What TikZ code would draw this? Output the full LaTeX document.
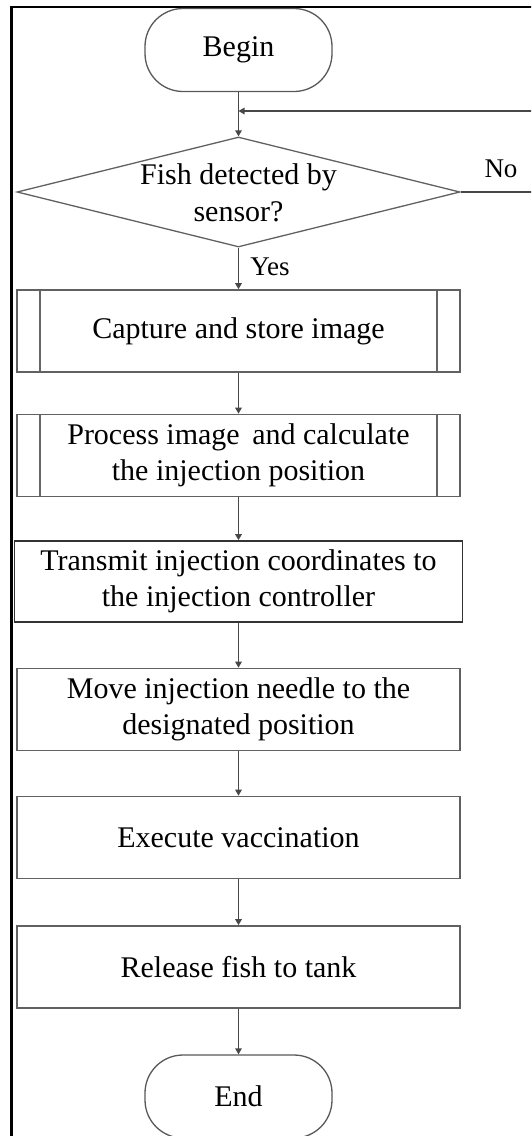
\documentclass[tikz,border=0pt]{standalone}
\usepackage{fontspec}
\setmainfont{Liberation Serif}
\usetikzlibrary{arrows.meta,shapes.geometric}
\begin{document}
\begin{tikzpicture}[x=1pt,y=-1pt,
  txt/.style={font=\fontsize{30}{36.5}\selectfont, align=center, text=black},
  lbl/.style={font=\fontsize{27}{30}\selectfont, text=black, inner sep=0pt},
  term/.style={txt, draw=black!65, line width=1.3pt, rounded corners=38pt, minimum width=187pt, minimum height=83pt, inner sep=0pt},
  procbox/.style={txt, draw=black!62, line width=1.6pt, minimum width=443pt, minimum height=82pt, inner sep=0pt},
  predef/.style={procbox, path picture={
      \draw[black!60, line width=1.3pt]
        ([xshift=23pt]path picture bounding box.north west) -- ([xshift=23pt]path picture bounding box.south west)
        ([xshift=-23pt]path picture bounding box.north east) -- ([xshift=-23pt]path picture bounding box.south east);}},
  decision/.style={diamond, draw=black!62, line width=1.3pt, minimum width=443pt, minimum height=110pt, inner sep=0pt},
  arr/.style={draw=black!72, line width=1.3pt, -{Triangle[length=6pt,width=6.5pt]}},
  line/.style={draw=black!72, line width=1.3pt}
]
\useasboundingbox (0,0) rectangle (531,1136);
\clip (0,0) rectangle (531,1136);
\fill[white] (0,0) rectangle (531,1136);
% frame
\draw[black, line width=2.6pt] (11.5,1140) -- (11.5,7) -- (540,7);

\node[term] (begin) at (238.5,50) {Begin};
\node[decision] (dec) at (238.5,192) {};
\node[txt] (dectxt) at (238.5,193) {Fish detected by\\sensor?};
\node[predef] (p1) at (238.5,331) {Capture and store image};
\node[predef] (p2) at (238.5,455.5) {Process image\, and calculate\\the injection position};
\node[procbox, draw=black!80, minimum width=448pt, minimum height=81pt] (p3) at (238.5,581.5) {Transmit injection coordinates to\\the injection controller};
\node[procbox] (p4) at (238.5,709.5) {Move injection needle to the\\designated position};
\node[procbox] (p5) at (238.5,837.5) {Execute vaccination};
\node[procbox] (p6) at (238.5,967) {Release fish to tank};
\node[term] (end) at (238.5,1096.5) {End};

\coordinate (join) at (238.5,111);
\coordinate (loopR) at (560,192);

\draw[arr] (begin) -- (dec);
\draw[arr] (dec.east) -- (loopR) |- (join);
\draw[arr] (dec) -- (p1);
\draw[arr] (p1) -- (p2);
\draw[arr] (p2) -- (p3);
\draw[arr] (p3) -- (p4);
\draw[arr] (p4) -- (p5);
\draw[arr] (p5) -- (p6);
\draw[arr] (p6) -- (end);

\node[lbl] (no) at (501,169) {No};
\node[lbl] (yes) at (270,267) {Yes};
\end{tikzpicture}
\end{document}
